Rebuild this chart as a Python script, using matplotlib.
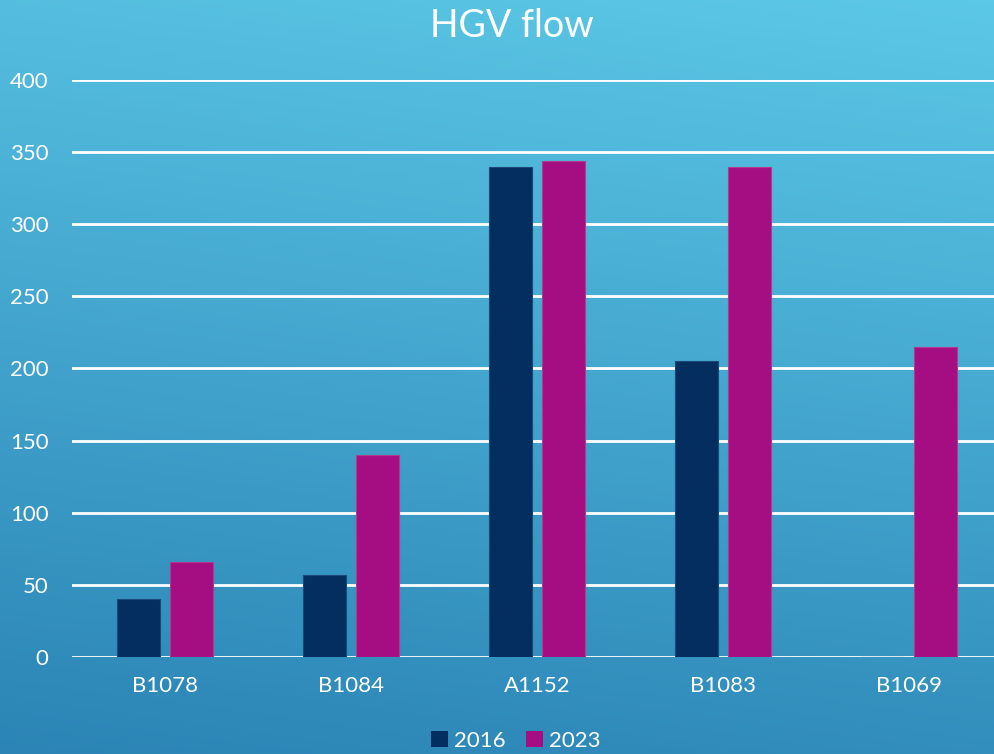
import numpy as np
import matplotlib
matplotlib.use("Agg")
import matplotlib.pyplot as plt
from matplotlib.colors import LinearSegmentedColormap
from matplotlib.patches import Patch

categories = ["B1078", "B1084", "A1152", "B1083", "B1069"]
series_2016 = [40, 57, 340, 205, 0]
series_2023 = [66, 140, 344, 340, 215]
series_names = ["2016", "2023"]
y_ticks = [0, 50, 100, 150, 200, 250, 300, 350, 400]

plt.rcParams['font.family'] = ['Lato', 'DejaVu Sans']

W, H = 994, 754
fig = plt.figure(figsize=(W / 100, H / 100), dpi=100)

# background gradient
bg = fig.add_axes([0, 0, 1, 1], zorder=0)
yy, xx = np.mgrid[0:1:200j, 0:1:200j]
t = 0.85 * yy + 0.15 * (1 - xx)
cmap = LinearSegmentedColormap.from_list("bg", ["#5CC8E7", "#2B84B5"])
bg.imshow(t, cmap=cmap, aspect="auto", extent=[0, 1, 0, 1], origin="upper")
bg.set_axis_off()

ax = fig.add_axes([72 / W, 97 / H, (W - 72) / W, 577 / H], zorder=1)
ax.patch.set_alpha(0)

x = np.arange(len(categories))
bw = 0.226
off = 0.1425
ax.bar(x - off, series_2016, bw, color="#042E60", edgecolor="#1B4A7A", linewidth=0.8, zorder=3)
ax.bar(x + off, series_2023, bw, color="#A50E82", edgecolor="#B03A90", linewidth=0.8, zorder=3)

ax.set_xlim(-0.5, -0.5 + (W - 72) / 186)
ax.set_ylim(0, 400)
ax.set_yticks(y_ticks)
ax.set_yticklabels([str(v) for v in y_ticks])
ax.set_xticks(x)
ax.set_xticklabels(categories)
ax.grid(axis="y", color="white", linewidth=2, zorder=1)
ax.set_axisbelow(True)
for s in ax.spines.values():
    s.set_visible(False)
ax.tick_params(axis="both", length=0, colors="white", labelsize=16)
ax.tick_params(axis="y", pad=17)
ax.tick_params(axis="x", pad=14)

fig.text(512 / W, 1 - 26 / H, "HGV flow", color="white", fontsize=27,
         ha="center", va="center")

handles = [Patch(facecolor="#042E60"), Patch(facecolor="#A50E82")]
leg = fig.legend(handles, series_names, loc="center", bbox_to_anchor=(516 / W, 1 - 741 / H),
                 ncol=2, frameon=False, fontsize=16, handlelength=0.75, handleheight=0.75,
                 handletextpad=0.3, columnspacing=0.9, labelcolor="white")

fig.savefig("out.png", dpi=100)
